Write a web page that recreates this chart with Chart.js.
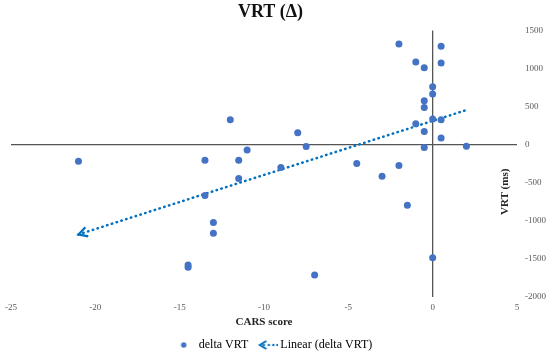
<!DOCTYPE html>
<html>
<head>
<meta charset="utf-8">
<script src="https://cdn.jsdelivr.net/npm/chart.js@4.4.1/dist/chart.umd.min.js"></script>
<style>
  body { margin: 0; background: #fff; }
</style>
</head>
<body>
<canvas id="myChart" width="550" height="358"></canvas>
<script>
// CARS score change vs VRT change
const carsScore = [-21, -14.5, -14.5, -13.5, -13.5, -13, -13, -12, -11.5, -11.5, -11, -9, -8, -7.5, -7,
  -4.5, -3, -2, -2, -1.5, -1, -1, -0.5, -0.5, -0.5, -0.5, -0.5, 0, 0, 0, 0, 0.5, 0.5, 0.5, 0.5, 2];
const deltaVRT = [-215, -1580, -1610, -202, -667, -1022, -1163, 329, -202, -443, -70, -298, 158, -22, -1711,
  -246, -412, 1325, -272, -794, 1088, 276, 1013, 579, 491, 175, -35, 763, 667, 338, -1483, 1294, 1075, 329, 88, -20];
const xTicks = [-25, -20, -15, -10, -5, 0, 5];
const yTicks = [-2000, -1500, -1000, -500, 0, 500, 1000, 1500];

const serif = "'Liberation Serif', 'Times New Roman', serif";
const pointColor = "#4472C4";
const trendColor = "#0070C0";

let points = [];
for (let i = 0; i < carsScore.length; i++) {
  points.push({ x: carsScore[i], y: deltaVRT[i] });
}

// least squares trendline, like excel "Linear"
let n = carsScore.length;
let mx = carsScore.reduce((a, b) => a + b, 0) / n;
let my = deltaVRT.reduce((a, b) => a + b, 0) / n;
let sxy = 0;
let sxx = 0;
for (let i = 0; i < n; i++) {
  sxy += (carsScore[i] - mx) * (deltaVRT[i] - my);
  sxx += (carsScore[i] - mx) * (carsScore[i] - mx);
}
const slope = sxy / sxx;
const intercept = my - slope * mx;
const xMin = Math.min(...carsScore);
const xMax = Math.max(...carsScore);
const trend = [
  { x: xMin, y: intercept + slope * xMin },
  { x: xMax, y: intercept + slope * xMax },
];

// legend icons
const dotIcon = document.createElement("canvas");
dotIcon.width = 32;
dotIcon.height = 12;
let c = dotIcon.getContext("2d");
c.fillStyle = pointColor;
c.beginPath();
c.arc(19, 6, 2.7, 0, Math.PI * 2);
c.fill();

const arrowIcon = document.createElement("canvas");
arrowIcon.width = 32;
arrowIcon.height = 12;
c = arrowIcon.getContext("2d");
c.strokeStyle = trendColor;
c.fillStyle = trendColor;
c.lineWidth = 2;
c.beginPath();
c.moveTo(20, 2);
c.lineTo(13.5, 6);
c.lineTo(20, 10);
c.stroke();
[17.5, 22.5, 27, 31].forEach((x) => {
  c.beginPath();
  c.arc(x, 6, 1.2, 0, Math.PI * 2);
  c.fill();
});

const extras = {
  id: "extras",
  afterLayout(chart) {
    // y labels hang past the narrow axis box, don't let them get clipped
    chart.scales.y.right = chart.width;
  },
  afterDatasetsDraw(chart) {
    const ctx = chart.ctx;
    const xs = chart.scales.x;
    const ys = chart.scales.y;
    // arrow head at the start of the trendline
    const x0 = xs.getPixelForValue(trend[0].x);
    const y0 = ys.getPixelForValue(trend[0].y);
    const x1 = xs.getPixelForValue(trend[1].x);
    const y1 = ys.getPixelForValue(trend[1].y);
    const ang = Math.atan2(y1 - y0, x1 - x0);
    const len = 10;
    ctx.save();
    ctx.strokeStyle = trendColor;
    ctx.lineWidth = 2.2;
    ctx.beginPath();
    ctx.moveTo(x0 + len * Math.cos(ang - 0.5), y0 + len * Math.sin(ang - 0.5));
    ctx.lineTo(x0, y0);
    ctx.lineTo(x0 + len * Math.cos(ang + 0.5), y0 + len * Math.sin(ang + 0.5));
    ctx.stroke();
    ctx.restore();
  },
  afterDraw(chart) {
    const ctx = chart.ctx;
    const area = chart.chartArea;
    ctx.save();
    ctx.translate(area.right - 12, (area.top + area.bottom) / 2 + 28);
    ctx.rotate(-Math.PI / 2);
    ctx.font = "bold 11px " + serif;
    ctx.fillStyle = "#262626";
    ctx.textAlign = "center";
    ctx.textBaseline = "middle";
    ctx.fillText("VRT (ms)", 0, 0);
    ctx.restore();
  },
};

const zeroLine = (context) => (context.tick && context.tick.value === 0 ? "#555555" : "rgba(0,0,0,0)");

let obj = new Chart(document.getElementById("myChart"), {
  type: "scatter",
  data: {
    datasets: [
      {
        label: "delta VRT",
        data: points,
        backgroundColor: pointColor,
        borderWidth: 0,
        pointRadius: 3.5,
        pointHoverRadius: 3.5,
      },
      {
        label: "Linear (delta VRT)",
        data: trend,
        showLine: true,
        borderColor: trendColor,
        borderWidth: 2.5,
        borderDash: [0.5, 4.5],
        borderCapStyle: "round",
        pointRadius: 0,
        fill: false,
      },
    ],
  },
  options: {
    responsive: false,
    animation: false,
    devicePixelRatio: 1,
    layout: {
      padding: { left: 11, right: 20, top: 0, bottom: -3 },
    },
    scales: {
      x: {
        type: "linear",
        position: "bottom",
        min: -25,
        max: 5,
        afterBuildTicks: (s) => {
          s.ticks = xTicks.map((v) => ({ value: v }));
        },
        afterFit: (s) => {
          s.height = 40;
        },
        grid: { color: zeroLine, lineWidth: 1.3, drawTicks: false },
        border: { display: false },
        ticks: {
          padding: 5,
          color: "#595959",
          font: { family: serif, size: 9 },
          callback: (v) => String(v),
        },
        title: {
          display: true,
          text: "CARS score",
          color: "#262626",
          font: { family: serif, size: 11, weight: "bold" },
          padding: { top: 0, bottom: 8 },
        },
      },
      y: {
        type: "linear",
        position: "right",
        min: -2000,
        max: 1500,
        afterBuildTicks: (s) => {
          s.ticks = yTicks.map((v) => ({ value: v }));
        },
        afterFit: (s) => {
          s.width = 13;
        },
        grid: { color: zeroLine, lineWidth: 1.3, drawTicks: false },
        border: { display: false },
        ticks: {
          padding: 8,
          color: "#595959",
          font: { family: serif, size: 9 },
          callback: (v) => String(v),
        },
      },
    },
    plugins: {
      title: {
        display: true,
        text: "VRT (Δ)",
        color: "#111111",
        font: { family: serif, size: 18, weight: "bold" },
        padding: { top: 2, bottom: 7 },
      },
      legend: {
        position: "bottom",
        labels: {
          usePointStyle: true,
          pointStyleWidth: 24,
          boxHeight: 10,
          padding: 2,
          color: "#1a1a1a",
          font: { family: serif, size: 12 },
          generateLabels: () => [
            { text: "delta VRT", pointStyle: dotIcon, datasetIndex: 0, lineWidth: 0, hidden: false },
            { text: "Linear (delta VRT)", pointStyle: arrowIcon, datasetIndex: 1, lineWidth: 0, hidden: false },
          ],
        },
      },
      tooltip: { enabled: false },
    },
  },
  plugins: [extras],
});
</script>
</body>
</html>
